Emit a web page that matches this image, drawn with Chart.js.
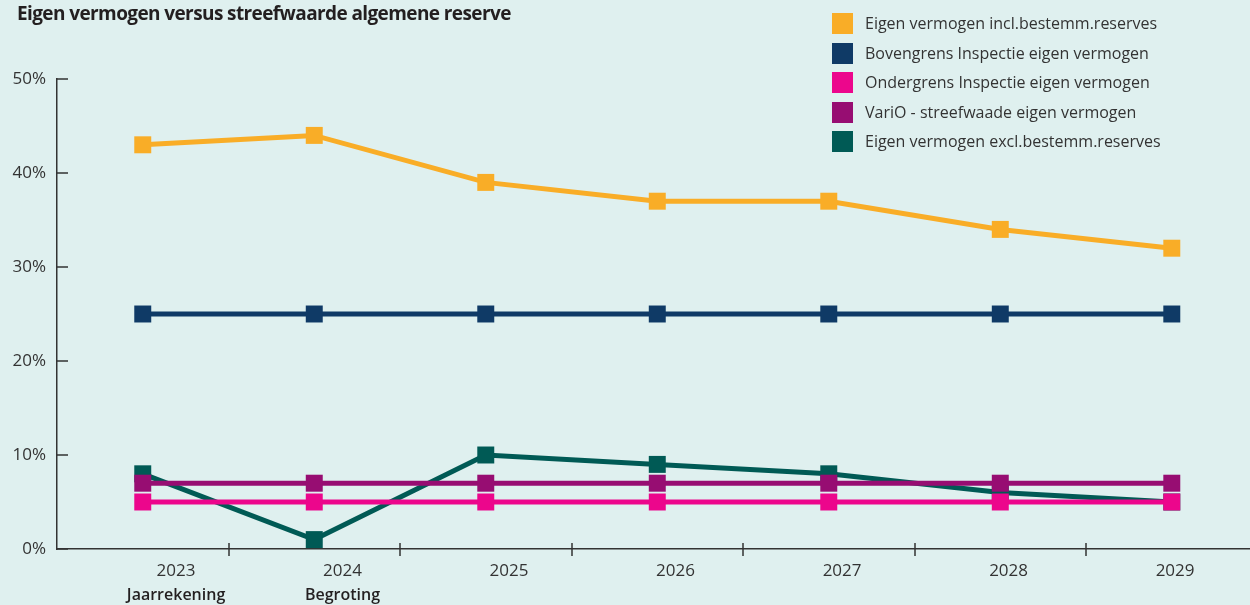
<!DOCTYPE html>
<html>
<head>
<meta charset="utf-8">
<script src="https://cdn.jsdelivr.net/npm/chart.js@4.4.1/dist/chart.umd.min.js"></script>
<style>
  body { margin: 0; background: #dff0ef; }
  #wrap { position: relative; width: 1250px; height: 605px; }
  #title { position: absolute; left: 17px; top: 0px; font: bold 19px "Open Sans", sans-serif; color: #231f20; letter-spacing: -0.6px; }
  #legend { position: absolute; left: 832px; top: 13px; font: 16px "Open Sans", sans-serif; color: #333; }
  #legend div { height: 29.5px; display: flex; align-items: flex-start; }
  #legend span.box { width: 21px; height: 21px; margin-right: 12px; }
  #legend span.txt { line-height: 21px; }
  canvas { position: absolute; left: 0; top: 0; }
</style>
</head>
<body>
<div id="wrap">
  <canvas id="myChart" width="1250" height="605"></canvas>
  <div id="title">Eigen vermogen versus streefwaarde algemene reserve</div>
  <div id="legend"></div>
</div>
<script>
// Years on the x axis, and the extra line under the first two
let years = [2023, 2024, 2025, 2026, 2027, 2028, 2029];
let subLabels = ['Jaarrekening', 'Begroting'];
let yTicks = [0, 10, 20, 30, 40, 50];

// Values in percent
let inclReserves = [43, 44, 39, 37, 37, 34, 32];
let bovengrens = [25, 25, 25, 25, 25, 25, 25];
let ondergrens = [5, 5, 5, 5, 5, 5, 5];
let vario = [7, 7, 7, 7, 7, 7, 7];
let exclReserves = [8, 1, 10, 9, 8, 6, 5];

const font = '"Open Sans", sans-serif';

function line(label, color, values) {
    return {
        label: label,
        data: values,
        borderColor: color,
        backgroundColor: color,
        borderWidth: 5,
        pointStyle: 'rect',
        pointRadius: 12,
        pointHoverRadius: 12,
        pointBorderWidth: 0,
        tension: 0,
        clip: false
    };
}

// first dataset is drawn on top, so the teal one sits underneath
let data = {
    labels: years,
    datasets: [
        line('Eigen vermogen incl.bestemm.reserves', '#f9ad27', inclReserves),
        line('Bovengrens Inspectie eigen vermogen', '#0f3a66', bovengrens),
        line('Ondergrens Inspectie eigen vermogen', '#ec068c', ondergrens),
        line('VariO - streefwaade eigen vermogen', '#970d72', vario),
        line('Eigen vermogen excl.bestemm.reserves', '#005a55', exclReserves)
    ]
};

// small tick marks: inside the y axis, across the x axis between years
const axisMarks = {
    id: 'axisMarks',
    afterDraw(chart) {
        const ctx = chart.ctx;
        const y = chart.scales.y;
        const x = chart.scales.x;
        ctx.save();
        ctx.strokeStyle = '#333';
        ctx.lineWidth = 1.5;
        ctx.beginPath();
        yTicks.forEach(v => {
            const py = Math.round(y.getPixelForValue(v));
            ctx.moveTo(y.right, py);
            ctx.lineTo(y.right + 11, py);
        });
        years.slice(0, -1).forEach(yr => {
            const px = Math.round(x.getPixelForValue(yr + 0.5));
            ctx.moveTo(px, x.top - 6);
            ctx.lineTo(px, x.top + 7);
        });
        ctx.stroke();
        ctx.restore();
    }
};

const config = {
    type: 'line',
    data: data,
    options: {
        responsive: false,
        animation: false,
        layout: { autoPadding: false, padding: { top: 79, left: 0, right: 0, bottom: 0 } },
        plugins: {
            legend: { display: false },
            tooltip: { enabled: false }
        },
        scales: {
            y: {
                min: 0,
                max: 50,
                afterFit: s => { s.width = 57; },
                afterBuildTicks: s => { s.ticks = yTicks.map(v => ({ value: v })); },
                grid: { display: false, drawTicks: false },
                border: { display: true, color: '#333', width: 1.5 },
                ticks: {
                    padding: 11,
                    color: '#333',
                    font: { family: font, size: 17 },
                    callback: v => v + '%'
                }
            },
            // the data axis: only its line is shown
            x: {
                type: 'linear',
                min: 2022.5,
                max: 2029.456,
                weight: 0,
                afterFit: s => { s.height = 0; },
                grid: { display: false, drawTicks: false },
                border: { display: true, color: '#333', width: 1.5 },
                ticks: { display: false }
            },
            // year labels, spaced a bit tighter than the points as in the source
            xl: {
                type: 'linear',
                position: 'bottom',
                min: 2022.285,
                max: 2029.45,
                weight: 1,
                afterFit: s => { s.height = 33; },
                afterBuildTicks: s => { s.ticks = years.map(v => ({ value: v })); },
                grid: { display: false, drawTicks: false },
                border: { display: false },
                ticks: {
                    padding: 12,
                    color: '#333',
                    font: { family: font, size: 17 },
                    callback: v => String(v)
                }
            },
            xs: {
                type: 'linear',
                position: 'bottom',
                min: 2022.285,
                max: 2029.45,
                weight: 2,
                afterFit: s => { s.height = 23; },
                afterBuildTicks: s => { s.ticks = years.slice(0, subLabels.length).map(v => ({ value: v })); },
                grid: { display: false, drawTicks: false },
                border: { display: false },
                ticks: {
                    padding: 4,
                    color: '#231f20',
                    font: { family: font, size: 16, weight: 600 },
                    callback: (v, i) => subLabels[i]
                }
            }
        }
    },
    plugins: [axisMarks]
};

const theChart = new Chart(document.getElementById('myChart').getContext('2d'), config);

// legend as a column of boxes, built from the datasets
let legend = document.getElementById('legend');
data.datasets.forEach(ds => {
    let row = document.createElement('div');
    row.innerHTML = '<span class="box" style="background:' + ds.borderColor + '"></span><span class="txt">' + ds.label + '</span>';
    legend.appendChild(row);
});
</script>
</body>
</html>
